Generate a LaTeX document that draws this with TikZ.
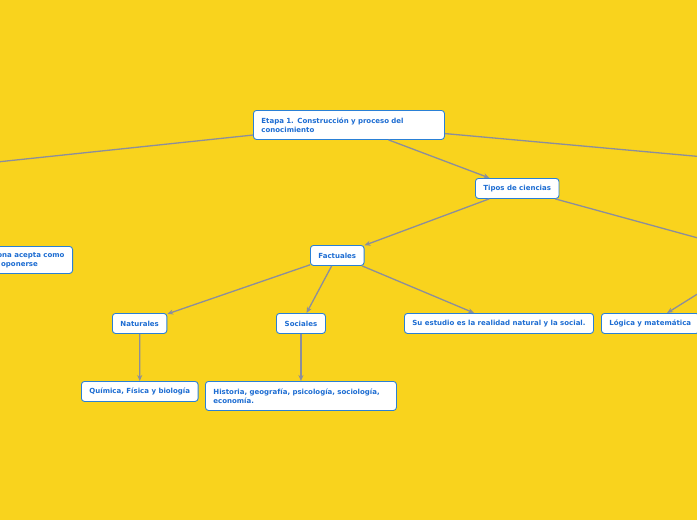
\documentclass[tikz,border=0pt]{standalone}
\usepackage{fontspec}
\setmainfont{DejaVu Sans}
\usetikzlibrary{arrows.meta}
\definecolor{bgyellow}{RGB}{249,211,29}
\definecolor{linegray}{RGB}{140,142,155}
\definecolor{boxblue}{RGB}{42,128,214}
\definecolor{txtblue}{RGB}{28,108,210}
\tikzset{
  mbox/.style={draw=boxblue, fill=white, rounded corners=3pt, line width=0.9pt,
    text=txtblue, font=\fontsize{7}{9}\selectfont\bfseries,
    inner xsep=8pt, inner ysep=0pt, minimum height=20pt, anchor=north west, align=left},
  conn/.style={draw=linegray, line width=1.3pt, -{Stealth[length=6pt,width=5pt]}}
}
\begin{document}
\begin{tikzpicture}[x=1pt,y=-1pt]
\useasboundingbox (0,0) rectangle (697,520);
\clip (0,0) rectangle (697,520);
\fill[bgyellow] (-5,-5) rectangle (702,525);

\node[mbox, minimum width=191pt, minimum height=29pt, text width=175pt] (main) at (253,110)
  {Etapa 1. Construcción y proceso del\\conocimiento};
\node[mbox, minimum width=83pt, align=center] (tipos) at (475,178) {Tipos de ciencias};
\node[mbox, minimum width=53pt, align=center] (fact) at (310,245) {Factuales};
\node[mbox, minimum width=54pt, align=center] (nat) at (112,313) {Naturales};
\node[mbox, minimum width=49pt, align=center] (soc) at (276,313) {Sociales};
\node[mbox, minimum width=188pt, align=center] (su) at (404,313) {Su estudio es la realidad natural y la social.};
\node[mbox, minimum width=94pt, align=center] (log) at (601,313) {Lógica y matemática};
\node[mbox, minimum width=116pt, align=center] (quim) at (81,381) {Química, Física y biología};
\node[mbox, minimum width=191pt, minimum height=29pt, text width=175pt] (hist) at (205,381)
  {Historia, geografía, psicología, sociología,\\economía.};
\node[mbox, anchor=north east, minimum height=27pt] (cre) at (73,246)
  {Lo que la persona acepta como\\verdadero, sin oponerse};

\coordinate (offL) at (-60,168);
\coordinate (offR) at (760,162);
\coordinate (form) at (760,255);

\draw[conn] (main) -- (offL);
\draw[conn] (main) -- (offR);
\draw[conn] (main) -- (tipos);
\draw[conn] (tipos) -- (fact);
\draw[conn] (tipos) -- (form);
\draw[conn] (form) -- (log);
\draw[conn] (fact) -- (nat);
\draw[conn] (fact) -- (soc);
\draw[conn] (fact) -- (su);
\draw[conn] (nat) -- (quim);
\draw[conn] (soc) -- (hist);
\end{tikzpicture}
\end{document}
